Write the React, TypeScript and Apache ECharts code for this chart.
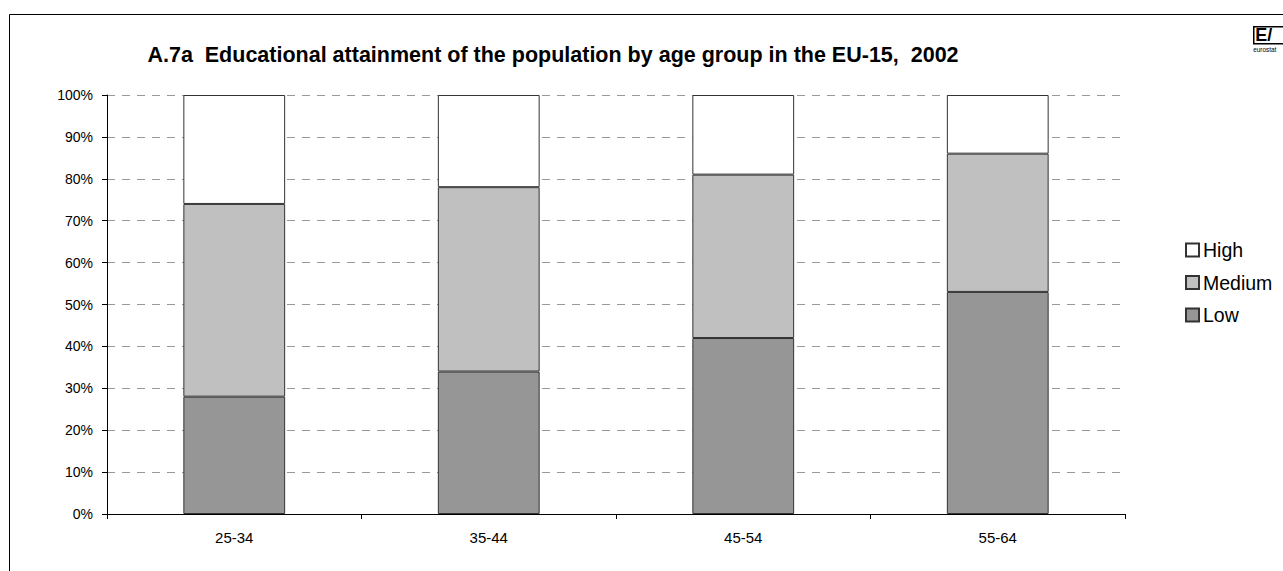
import React, { useEffect, useRef } from "react";
import * as echarts from "echarts";

const categories = ["25-34", "35-44", "45-54", "55-64"];
const lowValues = [28, 34, 42, 53];
const mediumValues = [46, 44, 39, 33];
const highValues = [26, 22, 19, 14];
const titleText = "A.7a  Educational attainment of the population by age group in the EU-15,  2002";

export default function App() {
  const ref = useRef<HTMLDivElement>(null);
  useEffect(() => {
    if (!ref.current) return;
    const chart = echarts.init(ref.current, undefined, { renderer: "svg" });
    const font = "Liberation Sans, Arial, sans-serif";
    const barStyle = (color: string) => ({
      color,
      borderColor: "#333",
      borderWidth: 1,
    });
    chart.setOption({
      animation: false,
      backgroundColor: "#fff",
      textStyle: { fontFamily: font },
      title: {
        text: titleText,
        left: 548,
        top: 39,
        textAlign: "center",
        textStyle: { fontFamily: font, fontSize: 21.5, fontWeight: "bold", color: "#000" },
      },
      legend: {
        orient: "vertical",
        left: 1185,
        top: 240,
        padding: 0,
        itemWidth: 13,
        itemHeight: 13,
        itemGap: 12.5,
        data: ["High", "Medium", "Low"],
        textStyle: { fontFamily: font, fontSize: 19.5, color: "#000", padding: [0, 0, 0, -1] },
        icon: "rect",
      },
      grid: { left: 107, right: 158, top: 95, bottom: 57 },
      xAxis: {
        type: "category",
        data: categories,
        boundaryGap: true,
        axisLine: { lineStyle: { color: "#000", width: 1 } },
        axisTick: { show: true, alignWithLabel: false, length: 5, lineStyle: { color: "#000" } },
        axisLabel: { color: "#000", fontSize: 15, fontFamily: font, margin: 16 },
        splitLine: { show: false },
      },
      yAxis: {
        type: "value",
        min: 0,
        max: 100,
        interval: 10,
        axisLine: { show: true, lineStyle: { color: "#000", width: 1 } },
        axisTick: { show: true, length: 5, lineStyle: { color: "#000" } },
        axisLabel: { color: "#000", fontSize: 14, fontFamily: font, formatter: "{value}%", margin: 14 },
        splitLine: { show: true, lineStyle: { color: "#999", type: [8, 7], width: 1 } },
      },
      series: [
        { name: "Low", type: "bar", stack: "a", data: lowValues, barWidth: "40%", itemStyle: barStyle("#969696") },
        { name: "Medium", type: "bar", stack: "a", data: mediumValues, barWidth: "40%", itemStyle: barStyle("#c0c0c0") },
        { name: "High", type: "bar", stack: "a", data: highValues, barWidth: "40%", itemStyle: barStyle("#ffffff") },
      ],
      graphic: [
        {
          type: "rect",
          shape: { x: 9.5, y: 14.5, width: 1290, height: 600 },
          style: { fill: "none", stroke: "#000", lineWidth: 1 },
          silent: true,
          z: -1,
        },
        {
          type: "group",
          left: 1253,
          top: 26,
          children: [
            { type: "rect", shape: { x: 0.5, y: 0.5, width: 32, height: 17 }, style: { fill: "#fff", stroke: "#000", lineWidth: 1.5 } },
            { type: "text", x: 2, y: 0, style: { text: "E/", font: "bold 18px Liberation Sans", fill: "#000" } },
            { type: "text", x: 0, y: 19, scaleX: 0.8, style: { text: "eurostat", font: "8px Liberation Sans", fill: "#000" } },
          ],
        },
      ],
    });
    return () => chart.dispose();
  }, []);
  return (
    <div
      ref={ref}
      style={{ position: "fixed", left: 0, top: 0, width: 1283, height: 571 }}
    />
  );
}
